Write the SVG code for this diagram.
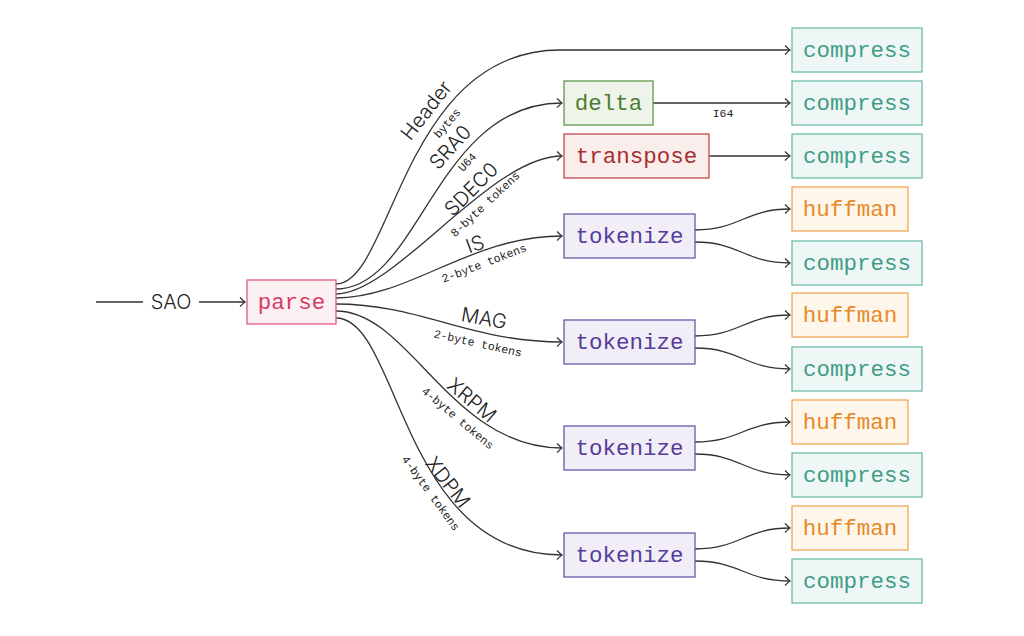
<svg xmlns="http://www.w3.org/2000/svg" width="1024" height="636" viewBox="0 0 1024 636">
<defs>
<style>
.edge{fill:none;stroke:#333;stroke-width:1.3}
.lbl{font-family:Inter,"Liberation Sans",sans-serif;font-weight:300;font-size:20px;fill:#222;text-anchor:middle}
.sm{font-family:"Liberation Mono","DejaVu Sans Mono",monospace;font-size:11.5px;fill:#222;text-anchor:middle}
.nt{font-family:"Liberation Mono","DejaVu Sans Mono",monospace;font-size:22.5px;text-anchor:middle}
.parse rect{fill:#fdf0f3;stroke:#e05a7e;stroke-width:1.3}.parse text{fill:#d33d68}
.delta rect{fill:#eef4ea;stroke:#5f9a4a;stroke-width:1.3}.delta text{fill:#4b7d2e}
.transpose rect{fill:#faeeec;stroke:#c24a4a;stroke-width:1.3}.transpose text{fill:#a52f2f}
.tok rect{fill:#f1eef8;stroke:#6a58ac;stroke-width:1.3}.tok text{fill:#553c9a}
.huff rect{fill:#fff6eb;stroke:#f0a657;stroke-width:1.3}.huff text{fill:#e68a2a}
.comp rect{fill:#eff7f6;stroke:#6fbcab;stroke-width:1.3}.comp text{fill:#3f9d86}
</style>
<marker id="arr" viewBox="-6 -6 8 12" refX="0" refY="0" markerWidth="8" markerHeight="12" orient="auto" markerUnits="userSpaceOnUse">
<path d="M-5,-4.5 Q-1.5,-1 0,0 Q-1.5,1 -5,4.5" fill="none" stroke="#333" stroke-width="1.2"/>
</marker>
</defs>
<rect width="1024" height="636" fill="#fff"/>

<g id="connectors">
<line class="edge" x1="96" y1="302" x2="143" y2="302"/>
<line class="edge" x1="199" y1="302" x2="245" y2="302" marker-end="url(#arr)"/>
<path class="edge" d="M336,284 C392,284 402,50 560,50 L790,50" marker-end="url(#arr)"/>
<path class="edge" d="M336,289 C420,289 435,103 562,103" marker-end="url(#arr)"/>
<path class="edge" d="M336,294 C395,294 490,156 562,156" marker-end="url(#arr)"/>
<path class="edge" d="M336,298 C410,298 470,236 562,236" marker-end="url(#arr)"/>
<path class="edge" d="M336,304 C420,304 470,342 562,342" marker-end="url(#arr)"/>
<path class="edge" d="M336,311 C410,311 450,448 562,448" marker-end="url(#arr)"/>
<path class="edge" d="M336,318 C400,318 400,555 562,555" marker-end="url(#arr)"/>
<line class="edge" x1="653" y1="103" x2="790" y2="103" marker-end="url(#arr)"/>
<line class="edge" x1="709" y1="156" x2="790" y2="156" marker-end="url(#arr)"/>
<path class="edge" d="M695,230 C740,230 745,209 790,209" marker-end="url(#arr)"/>
<path class="edge" d="M695,242 C740,242 745,263 790,263" marker-end="url(#arr)"/>
<path class="edge" d="M695,336 C740,336 745,315 790,315" marker-end="url(#arr)"/>
<path class="edge" d="M695,348 C740,348 745,369 790,369" marker-end="url(#arr)"/>
<path class="edge" d="M695,442 C740,442 745,422 790,422" marker-end="url(#arr)"/>
<path class="edge" d="M695,454 C740,454 745,475 790,475" marker-end="url(#arr)"/>
<path class="edge" d="M695,549 C740,549 745,528 790,528" marker-end="url(#arr)"/>
<path class="edge" d="M695,561 C740,561 745,581 790,581" marker-end="url(#arr)"/>

<text class="lbl" x="171" y="309">SAO</text>
<text class="lbl" transform="translate(426,110) rotate(-52)" dy="0.36em">Header</text>
<text class="sm" transform="translate(447,123) rotate(-50)" dy="0.35em">bytes</text>
<text class="lbl" transform="translate(450,147) rotate(-48)" dy="0.36em">SRA0</text>
<text class="sm" transform="translate(467,162) rotate(-46)" dy="0.35em">U64</text>
<text class="lbl" transform="translate(471,189) rotate(-45)" dy="0.36em">SDEC0</text>
<text class="sm" transform="translate(485,204) rotate(-43)" dy="0.35em">8-byte tokens</text>
<text class="lbl" transform="translate(475,244) rotate(-20)" dy="0.36em">IS</text>
<text class="sm" transform="translate(484,263) rotate(-21)" dy="0.35em">2-byte tokens</text>
<text class="lbl" transform="translate(484,318) rotate(10)" dy="0.36em">MAG</text>
<text class="sm" transform="translate(478,343) rotate(12.5)" dy="0.35em">2-byte tokens</text>
<text class="lbl" transform="translate(472,400) rotate(40)" dy="0.36em">XRPM</text>
<text class="sm" transform="translate(458,418) rotate(40)" dy="0.35em">4-byte tokens</text>
<text class="lbl" transform="translate(448,482) rotate(52)" dy="0.36em">XDPM</text>
<text class="sm" transform="translate(431,493) rotate(54)" dy="0.35em">4-byte tokens</text>
<text class="sm" x="723" y="117">I64</text>
</g>

<g id="parse" class="parse"><rect x="247" y="280" width="89" height="44"/><text class="nt" x="291.5" y="308.5">parse</text></g>
<g id="delta" class="delta"><rect x="564" y="81" width="89" height="44"/><text class="nt" x="608.5" y="109.5">delta</text></g>
<g id="transpose" class="transpose"><rect x="564" y="134" width="145" height="44"/><text class="nt" x="636.5" y="162.5">transpose</text></g>
<g id="tokenize1" class="tok"><rect x="564" y="214" width="131" height="44"/><text class="nt" x="629.5" y="242.5">tokenize</text></g>
<g id="tokenize2" class="tok"><rect x="564" y="320" width="131" height="44"/><text class="nt" x="629.5" y="348.5">tokenize</text></g>
<g id="tokenize3" class="tok"><rect x="564" y="426" width="131" height="44"/><text class="nt" x="629.5" y="454.5">tokenize</text></g>
<g id="tokenize4" class="tok"><rect x="564" y="533" width="131" height="44"/><text class="nt" x="629.5" y="561.5">tokenize</text></g>
<g id="compress1" class="comp"><rect x="792" y="28" width="130" height="44"/><text class="nt" x="857" y="56.5">compress</text></g>
<g id="compress2" class="comp"><rect x="792" y="81" width="130" height="44"/><text class="nt" x="857" y="109.5">compress</text></g>
<g id="compress3" class="comp"><rect x="792" y="134" width="130" height="44"/><text class="nt" x="857" y="162.5">compress</text></g>
<g id="huffman1" class="huff"><rect x="792" y="187" width="116" height="44"/><text class="nt" x="850" y="215.5">huffman</text></g>
<g id="compress4" class="comp"><rect x="792" y="241" width="130" height="44"/><text class="nt" x="857" y="269.5">compress</text></g>
<g id="huffman2" class="huff"><rect x="792" y="293" width="116" height="44"/><text class="nt" x="850" y="321.5">huffman</text></g>
<g id="compress5" class="comp"><rect x="792" y="347" width="130" height="44"/><text class="nt" x="857" y="375.5">compress</text></g>
<g id="huffman3" class="huff"><rect x="792" y="400" width="116" height="44"/><text class="nt" x="850" y="428.5">huffman</text></g>
<g id="compress6" class="comp"><rect x="792" y="453" width="130" height="44"/><text class="nt" x="857" y="481.5">compress</text></g>
<g id="huffman4" class="huff"><rect x="792" y="506" width="116" height="44"/><text class="nt" x="850" y="534.5">huffman</text></g>
<g id="compress7" class="comp"><rect x="792" y="559" width="130" height="44"/><text class="nt" x="857" y="587.5">compress</text></g>
</svg>
